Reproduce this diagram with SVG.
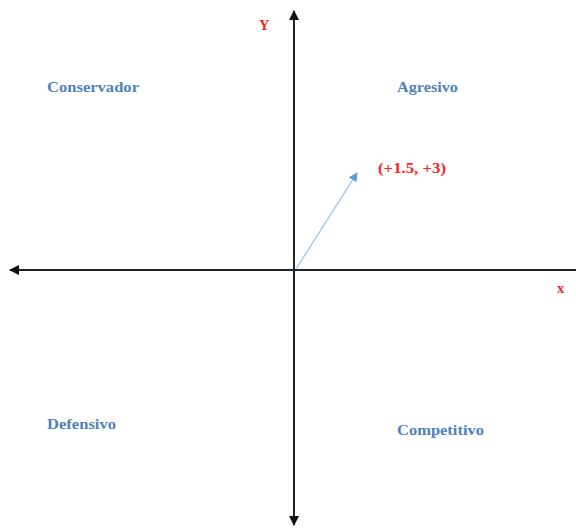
<svg xmlns="http://www.w3.org/2000/svg" width="576" height="529" viewBox="0 0 576 529">
<style>
.axis{stroke:#222;stroke-width:2;fill:none}
.vec{stroke:#9dc3e6;stroke-width:1.3;fill:none}
.lbl{font-family:"Liberation Serif",serif;font-weight:bold;font-size:14.5px;fill:#4f81bd}
.red{font-family:"Liberation Serif",serif;font-weight:bold;font-size:14.5px;fill:#ff2020}
</style>
<defs>
<marker id="ah" viewBox="0 0 10 10" refX="9" refY="5" markerWidth="5" markerHeight="5" orient="auto-start-reverse" markerUnits="strokeWidth"><path d="M0,0L10,5L0,10z" fill="#111"/></marker>
<marker id="bh" viewBox="0 0 10 10" refX="9" refY="5" markerWidth="7" markerHeight="7" orient="auto" markerUnits="strokeWidth"><path d="M0,0L10,5L0,10z" fill="#5b9bd5"/></marker>
</defs>
<rect width="576" height="529" fill="#fff"/>
<g id="connectors">
<line class="axis" x1="294" y1="525" x2="294" y2="11" marker-start="url(#ah)" marker-end="url(#ah)"/>
<line class="axis" x1="576" y1="270" x2="10" y2="270" marker-end="url(#ah)"/>
<line class="vec" x1="296" y1="269" x2="357" y2="173" marker-end="url(#bh)"/>
</g>
<g id="label-y"><text class="red" x="259" y="30">Y</text></g>
<g id="label-x"><text class="red" x="557" y="293">x</text></g>
<g id="point"><text class="red" x="378" y="173" textLength="68" lengthAdjust="spacingAndGlyphs">(+1.5, +3)</text></g>
<g id="conservador"><text class="lbl" x="47" y="92" textLength="92" lengthAdjust="spacingAndGlyphs">Conservador</text></g>
<g id="agresivo"><text class="lbl" x="397" y="92" textLength="61" lengthAdjust="spacingAndGlyphs">Agresivo</text></g>
<g id="defensivo"><text class="lbl" x="47" y="429" textLength="69" lengthAdjust="spacingAndGlyphs">Defensivo</text></g>
<g id="competitivo"><text class="lbl" x="397" y="435" textLength="87" lengthAdjust="spacingAndGlyphs">Competitivo</text></g>
</svg>
